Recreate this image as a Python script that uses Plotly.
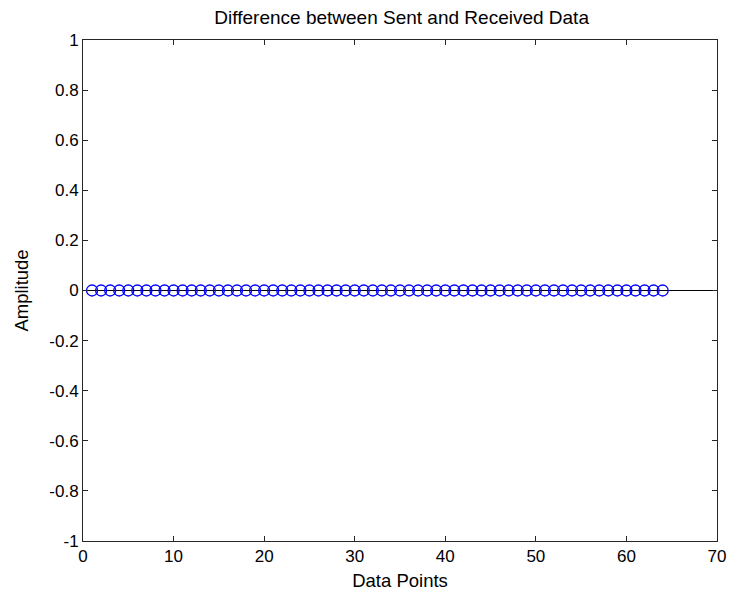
import plotly.graph_objects as go

n_points = 64
x_vals = list(range(1, n_points + 1))
y_vals = [0] * n_points

x_ticks = [0, 10, 20, 30, 40, 50, 60, 70]
y_ticks = [-1, -0.8, -0.6, -0.4, -0.2, 0, 0.2, 0.4, 0.6, 0.8, 1]
y_tick_text = ["-1", "-0.8", "-0.6", "-0.4", "-0.2", "0", "0.2", "0.4", "0.6", "0.8", "1"]

font_family = "Liberation Sans, Arial, sans-serif"

fig = go.Figure()
fig.add_trace(go.Scatter(
    x=x_vals, y=y_vals, mode="markers",
    marker=dict(symbol="circle-open", size=11, color="blue", line=dict(width=1.3, color="blue")),
    showlegend=False, hoverinfo="x+y",
))

axis_common = dict(
    showgrid=False, showline=True, linecolor="#262626", linewidth=1,
    ticks="inside", ticklen=5, tickcolor="#262626", mirror="ticks",
    tickfont=dict(family=font_family, size=17, color="black"),
    automargin=False,
)

fig.update_xaxes(range=[0, 70], tickvals=x_ticks, zeroline=False,
                 title=dict(text="Data Points", font=dict(family=font_family, size=18.5, color="black"), standoff=8),
                 **axis_common)
fig.update_yaxes(range=[-1, 1], tickvals=y_ticks, ticktext=y_tick_text,
                 zeroline=True, zerolinecolor="black", zerolinewidth=1,
                 title=dict(text="Amplitude", font=dict(family=font_family, size=18.5, color="black"), standoff=15),
                 **axis_common)

fig.update_layout(
    width=729, height=594,
    margin=dict(l=83, r=12, t=40, b=53),
    paper_bgcolor="white", plot_bgcolor="white",
    title=dict(text="Difference between Sent and Received Data",
               font=dict(family=font_family, size=19, color="black"),
               x=0.551, xanchor="center", y=0.971, yanchor="middle"),
)

fig.write_html("out.html")
